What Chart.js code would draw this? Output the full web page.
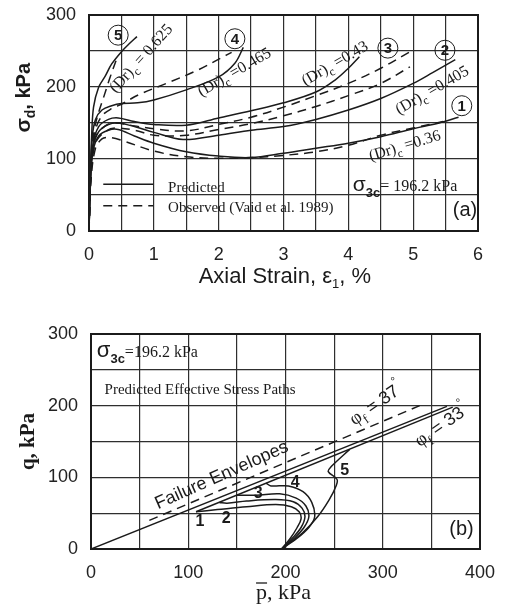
<!DOCTYPE html>
<html>
<head>
<meta charset="utf-8">
<script src="https://cdn.jsdelivr.net/npm/chart.js@4"></script>
<style>
  body { margin: 0; background: #fff; }
  #wrapA { position: absolute; left: 0; top: 0; width: 522px; height: 300px; }
  #wrapB { position: absolute; left: 0; top: 300px; width: 522px; height: 309px; }
</style>
</head>
<body>
<div id="wrapA"><canvas id="chartA"></canvas></div>
<div id="wrapB"><canvas id="chartB"></canvas></div>
<script>
// (a) deviator stress vs axial strain, [strain %, sigma_d kPa]
const pred5 = [[0,0],[0.02,80],[0.04,130],[0.07,172],[0.15,200],[0.25,215],[0.35,232],[0.5,249],[0.62,260],[0.74,270]];
const obs5  = [[0,0],[0.03,90],[0.08,140],[0.15,165],[0.23,187],[0.32,212],[0.43,240]];
const pred4 = [[0,0],[0.02,70],[0.05,130],[0.1,155],[0.2,168],[0.35,174],[0.5,177],[0.75,178],[1,182],[1.5,196],[2,214],[2.25,233],[2.38,255]];
const obs4  = [[0,0],[0.03,90],[0.1,140],[0.2,160],[0.35,170],[0.5,176],[0.76,189],[1.22,206],[1.69,224],[2.05,241],[2.2,248]];
const pred3 = [[0,0],[0.02,70],[0.06,120],[0.15,145],[0.3,155],[0.45,157],[0.7,152],[1,148],[1.5,147],[2,157],[2.5,167],[3,178],[3.5,193],[3.8,210],[4,226],[4.17,242]];
const obs3  = [[0,0],[0.03,80],[0.1,130],[0.25,146],[0.4,150],[0.7,146],[1,142],[1.5,139],[2,148],[2.5,158],[3,172],[3.5,188],[4,205],[4.5,226],[4.95,249]];
const pred2 = [[0,0],[0.02,65],[0.06,115],[0.15,138],[0.3,148],[0.45,150],[0.7,145],[1,137],[1.45,127],[2,133],[2.5,140],[3,145],[3.5,155],[4,168],[4.5,184],[5,205],[5.3,220],[5.65,238]];
const obs2  = [[0,0],[0.03,75],[0.1,122],[0.25,138],[0.4,143],[0.7,140],[1,133],[1.5,133],[2,141],[2.5,149],[3,160],[3.5,173],[4,188],[4.5,205],[4.95,228]];
const pred1 = [[0,0],[0.02,60],[0.06,110],[0.15,132],[0.3,140],[0.45,141],[0.7,132],[1,122],[1.5,110],[2,104],[2.5,102],[3,108],[3.5,115],[4,122],[4.5,131],[5,142],[5.4,150],[5.7,158]];
const obs1  = [[0,0],[0.03,70],[0.1,115],[0.2,128],[0.3,130],[0.5,126],[1,111],[1.5,103],[2,101],[2.5,102],[3,105],[3.5,110],[4,119],[4.5,133],[5,143],[5.46,152]];

// (b) effective stress paths, [p kPa, q kPa]
const envSolid  = [[0,0],[366,199]];
const envDashed = [[60,40],[338,200]];
const pathTail  = [[108,52],[372,198]];
const path1 = [[196,0],[205,15],[212,30],[216,42],[214,52],[206,59],[190,62],[160,59],[130,55],[108,52]];
const path2 = [[196,0],[207,15],[216,30],[220,45],[217,57],[208,66],[190,69],[160,67],[140,64],[132,65]];
const path3 = [[196,0],[209,15],[219,30],[224,45],[221,60],[211,71],[194,77],[170,75],[150,75]];
const path4 = [[196,0],[212,15],[224,30],[230,45],[227,65],[218,80],[203,88],[185,88],[180,92]];
const path5 = [[196,0],[217,22],[233,45],[245,69],[252,88],[253,97],[244,108],[247,115],[266,139]];

const INK = '#1b1b1b';
const SANS = '"Liberation Sans", Arial, sans-serif';
const SERIF = '"Liberation Serif", "Times New Roman", serif';

function line(pts, dashed, tension) {
  return {
    data: pts.map(([x, y]) => ({ x, y })),
    showLine: true, pointRadius: 0, fill: false,
    borderColor: INK, borderWidth: 1.5,
    borderDash: dashed ? [9, 6] : [],
    tension: tension === undefined ? 0.35 : tension
  };
}

// draw a run of text pieces: [text, font, dy]
function rich(ctx, x, y, parts, align) {
  let w = 0;
  parts.forEach(p => { ctx.font = p[1]; w += ctx.measureText(p[0]).width; });
  let cx = align === 'center' ? x - w / 2 : align === 'right' ? x - w : x;
  ctx.textAlign = 'left';
  ctx.textBaseline = 'alphabetic';
  parts.forEach(p => {
    ctx.font = p[1];
    ctx.fillText(p[0], cx, y + (p[2] || 0));
    cx += ctx.measureText(p[0]).width;
  });
}
function turned(ctx, x, y, deg, parts, lift) {
  ctx.save();
  ctx.translate(x, y);
  ctx.rotate(deg * Math.PI / 180);
  rich(ctx, 0, lift, parts, 'center');
  ctx.restore();
}
function frame(chart) {
  const a = chart.chartArea, ctx = chart.ctx;
  ctx.save();
  ctx.strokeStyle = INK;
  ctx.lineWidth = 2;
  ctx.strokeRect(a.left, a.top, a.right - a.left, a.bottom - a.top);
  ctx.restore();
}
function noPad(s) {
  s.paddingTop = 0; s.paddingBottom = 0; s.paddingLeft = 0; s.paddingRight = 0;
}

function axes(xmax, xstep, xlab, ymax, ystep, ylab, yw, xh) {
  const grid = { color: '#2e2e2e', lineWidth: 1.2, drawTicks: false };
  return {
    x: {
      type: 'linear', min: 0, max: xmax, grid, border: { color: INK, width: 2 },
      afterFit: s => { s.height = xh; noPad(s); },
      ticks: { stepSize: xstep, padding: 13, color: '#222', font: { family: SANS, size: 18 },
        callback: v => (Math.abs(v / xlab - Math.round(v / xlab)) < 1e-6 ? v : '') }
    },
    y: {
      type: 'linear', min: 0, max: ymax, grid, border: { color: INK, width: 2 },
      afterFit: s => { s.width = yw; noPad(s); },
      ticks: { stepSize: ystep, padding: 13, color: '#222', font: { family: SANS, size: 18 },
        callback: v => (v % ylab === 0 ? v : '') }
    }
  };
}

const decorA = {
  id: 'decorA',
  afterDatasetsDraw(chart) {
    frame(chart);
    const ctx = chart.ctx, X = v => chart.scales.x.getPixelForValue(v), Y = v => chart.scales.y.getPixelForValue(v);
    const a = chart.chartArea;
    ctx.save();
    ctx.fillStyle = INK;
    ctx.strokeStyle = INK;
    // axis titles
    turned(ctx, 23, Y(185), -90, [['σ', 'bold 21px ' + SANS], ['d', 'bold 14px ' + SANS, 5], [', kPa', 'bold 20px ' + SANS]], 7);
    rich(ctx, X(3.02), a.bottom + 52, [['Axial Strain, ε', '22px ' + SANS], ['1', '13px ' + SANS, 5], [', %', '22px ' + SANS]], 'center');
    // curve labels
    const dr = (x, y, deg, val) => turned(ctx, X(x), Y(y), deg,
      [['(Dr)', '16px ' + SERIF], ['c', '12px ' + SERIF, 5], [val, '16px ' + SERIF]], 5);
    dr(0.8, 240, -48, ' = 0.625');
    dr(2.24, 221, -30, ' =0.465');
    dr(3.79, 233, -30, ' =0.43');
    dr(5.29, 196, -30, ' =0.405');
    dr(4.87, 119, -17, ' =0.36');
    const circ = (x, y, n) => {
      ctx.beginPath();
      ctx.lineWidth = 1;
      ctx.arc(X(x), Y(y), 10, 0, Math.PI * 2);
      ctx.stroke();
      ctx.font = 'bold 15px ' + SANS;
      ctx.textAlign = 'center';
      ctx.textBaseline = 'middle';
      ctx.fillText(n, X(x), Y(y) + 1);
    };
    circ(0.45, 272, '5');
    circ(2.25, 267, '4');
    circ(4.61, 254, '3');
    circ(5.49, 251, '2');
    circ(5.75, 174, '1');
    // legend
    ctx.lineWidth = 1.5;
    ctx.beginPath(); ctx.moveTo(X(0.22), Y(65)); ctx.lineTo(X(0.99), Y(65)); ctx.stroke();
    ctx.setLineDash([9, 6]);
    ctx.beginPath(); ctx.moveTo(X(0.22), Y(35)); ctx.lineTo(X(0.99), Y(35)); ctx.stroke();
    ctx.setLineDash([]);
    rich(ctx, X(1.22), Y(65) + 8, [['Predicted', '15px ' + SERIF]], 'left');
    rich(ctx, X(1.22), Y(35) + 6, [['Observed (Vaid et al. 1989)', '15px ' + SERIF]], 'left');
    rich(ctx, X(4.07), Y(64) + 6, [['σ', '21px ' + SANS], ['3c', 'bold 13px ' + SANS, 6], ['= 196.2 kPa', '16px ' + SERIF]], 'left');
    rich(ctx, X(5.8), Y(31) + 7, [['(a)', '20px ' + SANS]], 'center');
    ctx.restore();
  }
};

const decorB = {
  id: 'decorB',
  afterDatasetsDraw(chart) {
    frame(chart);
    const ctx = chart.ctx, X = v => chart.scales.x.getPixelForValue(v), Y = v => chart.scales.y.getPixelForValue(v);
    const a = chart.chartArea;
    ctx.save();
    ctx.fillStyle = INK;
    ctx.strokeStyle = INK;
    // axis titles
    turned(ctx, 27, Y(150), -90, [['q, kPa', 'bold 21px ' + SERIF]], 7);
    const tx = X(198), ty = a.bottom + 50;
    rich(ctx, tx, ty, [['p, kPa', '22px ' + SERIF]], 'center');
    ctx.font = '22px ' + SERIF;
    const full = ctx.measureText('p, kPa').width, pw = ctx.measureText('p').width;
    ctx.lineWidth = 1.3;
    ctx.beginPath(); ctx.moveTo(tx - full / 2, ty - 16); ctx.lineTo(tx - full / 2 + pw, ty - 16); ctx.stroke();
    // texts
    rich(ctx, X(6), Y(278) + 7, [['σ', '22px ' + SANS], ['3c', 'bold 13px ' + SANS, 6], ['=196.2 kPa', '16px ' + SERIF]], 'left');
    rich(ctx, X(14), Y(223) + 5, [['Predicted Effective Stress Paths', '15px ' + SERIF]], 'left');
    turned(ctx, X(134), Y(104), -24, [['Failure Envelopes', '18px ' + SANS]], 6);
    turned(ctx, X(293), Y(203), -35, [['φ', '19px ' + SERIF], ['f', '13px ' + SERIF, 5], [' = 37', '18px ' + SANS], ['°', '12px ' + SANS, -10]], 6);
    turned(ctx, X(360), Y(173), -35, [['φ', '19px ' + SERIF], ['f', '13px ' + SERIF, 5], [' = 33', '18px ' + SANS], ['°', '12px ' + SANS, -10]], 6);
    ctx.font = 'bold 16px ' + SANS;
    ctx.textAlign = 'center';
    ctx.textBaseline = 'middle';
    [[112, 38, '1'], [139, 43, '2'], [172, 78, '3'], [210, 92, '4'], [261, 110, '5']].forEach(([x, y, n]) => ctx.fillText(n, X(x), Y(y)));
    rich(ctx, X(381), Y(29) + 7, [['(b)', '20px ' + SANS]], 'center');
    ctx.restore();
  }
};

const base = {
  responsive: true, maintainAspectRatio: false, animation: false, devicePixelRatio: 1,
  plugins: { legend: { display: false }, tooltip: { enabled: false } }
};

new Chart(document.getElementById('chartA'), {
  type: 'scatter',
  data: { datasets: [
    line(pred5), line(obs5, true), line(pred4), line(obs4, true), line(pred3), line(obs3, true),
    line(pred2), line(obs2, true), line(pred1), line(obs1, true)
  ] },
  options: Object.assign({}, base, {
    layout: { padding: { left: 0, top: 15, right: 44, bottom: 0 } },
    scales: axes(6, 0.5, 1, 300, 50, 100, 89, 69)
  }),
  plugins: [decorA]
});

new Chart(document.getElementById('chartB'), {
  type: 'scatter',
  data: { datasets: [
    line(envSolid, false, 0), line(envDashed, true, 0), line(pathTail, false, 0),
    line(path1), line(path2), line(path3), line(path4), line(path5)
  ] },
  options: Object.assign({}, base, {
    layout: { padding: { left: 0, top: 34, right: 42, bottom: 0 } },
    scales: axes(400, 50, 100, 300, 50, 100, 91, 60)
  }),
  plugins: [decorB]
});
</script>
</body>
</html>
